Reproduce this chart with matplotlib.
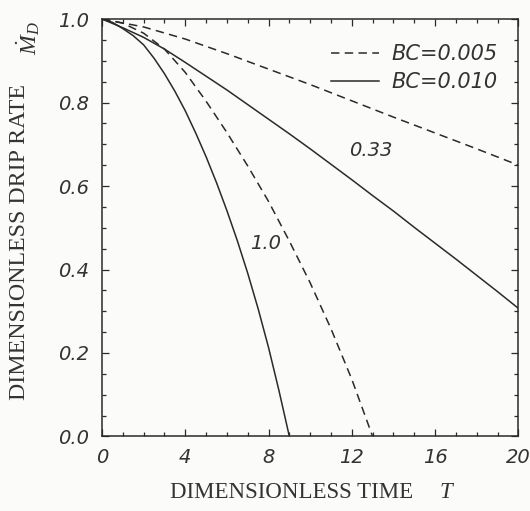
import numpy as np
import matplotlib
matplotlib.use('Agg')
import matplotlib.pyplot as plt
from matplotlib.ticker import MultipleLocator, FormatStrFormatter

plt.rcParams['mathtext.fontset'] = 'custom'
plt.rcParams['mathtext.rm'] = 'Liberation Serif'
plt.rcParams['mathtext.it'] = 'Liberation Serif:italic'

# Drip rate curves (T, M_D)
# BC = 0.010 (solid)
t_solid_033 = [0, 1, 2, 3, 4, 5, 6, 7, 8, 9, 10, 11, 12, 13, 14, 15, 16, 17, 18, 19, 20]
m_solid_033 = [1.0, 0.979, 0.956, 0.928, 0.896, 0.863, 0.830, 0.795, 0.760, 0.725, 0.689,
               0.652, 0.615, 0.577, 0.540, 0.501, 0.463, 0.425, 0.386, 0.347, 0.307]
t_solid_10 = [0, 0.5, 1, 1.5, 2, 2.5, 3, 3.5, 4, 4.5, 5, 5.5, 6, 6.5, 7, 7.5, 8, 8.5, 9.0]
m_solid_10 = [1.0, 0.992, 0.977, 0.960, 0.938, 0.906, 0.869, 0.827, 0.780, 0.727, 0.670,
              0.608, 0.541, 0.469, 0.391, 0.306, 0.213, 0.110, 0.0]

# BC = 0.005 (dashed)
t_dash_033 = [0, 2, 4, 6, 8, 10, 12, 14, 16, 18, 20]
m_dash_033 = [1.0, 0.981, 0.952, 0.917, 0.880, 0.843, 0.804, 0.765, 0.727, 0.689, 0.650]
t_dash_10 = [0, 1, 2, 3, 4, 5, 6, 7, 8, 9, 10, 11, 12, 13.0]
m_dash_10 = [1.0, 0.990, 0.966, 0.928, 0.872, 0.803, 0.728, 0.648, 0.563, 0.468, 0.368,
             0.258, 0.137, 0.0]

legend_labels = ['BC=0.005', 'BC=0.010']
ink = '#2a2a2a'
tick_font = dict(family='DejaVu Sans', style='oblique', size=14)

fig = plt.figure(figsize=(5.3, 5.11), dpi=100, facecolor='#fbfbfa')
ax = fig.add_axes([0.1925, 0.1458, 0.7855, 0.817])
ax.set_facecolor('#fbfbfa')

dash_style = dict(color=ink, lw=1.1, linestyle=(0, (5.5, 3.5)))
solid_style = dict(color=ink, lw=1.1, linestyle='-')

l_dash, = ax.plot(t_dash_033, m_dash_033, label=legend_labels[0], **dash_style)
ax.plot(t_dash_10, m_dash_10, **dash_style)
l_solid, = ax.plot(t_solid_033, m_solid_033, label=legend_labels[1], **solid_style)
ax.plot(t_solid_10, m_solid_10, **solid_style)

ax.set_xlim(0, 20)
ax.set_ylim(0, 1.0)
ax.xaxis.set_major_locator(MultipleLocator(4))
ax.xaxis.set_minor_locator(MultipleLocator(1))
ax.yaxis.set_major_locator(MultipleLocator(0.2))
ax.yaxis.set_minor_locator(MultipleLocator(0.05))
ax.yaxis.set_major_formatter(FormatStrFormatter('%.1f'))
ax.tick_params(which='both', direction='in', top=True, right=True, colors=ink, width=0.9)
ax.tick_params(which='major', length=5)
ax.tick_params(which='minor', length=3)
ax.tick_params(axis='y', pad=9)
ax.tick_params(axis='x', pad=8)
for lab in ax.get_xticklabels() + ax.get_yticklabels():
    lab.set_fontfamily(tick_font['family'])
    lab.set_fontstyle(tick_font['style'])
    lab.set_fontsize(tick_font['size'])
    lab.set_color('#333333')
for sp in ax.spines.values():
    sp.set_color(ink)
    sp.set_linewidth(1.1)

# curve labels (parameter value)
ax.text(12.9, 0.685, '0.33', ha='center', va='center', color='#333333', **tick_font)
ax.text(7.86, 0.463, '1.0', ha='center', va='center', color='#333333', **tick_font)

ax.legend(handles=[l_dash, l_solid], loc='upper right', bbox_to_anchor=(0.95, 0.94),
          frameon=False, borderpad=0, borderaxespad=0, handlelength=2.3,
          handletextpad=0.6, labelspacing=0.4,
          prop=dict(family='DejaVu Sans', style='oblique', size=15), labelcolor='#333333')

# axis labels
fig.text(0.55, 0.0254, 'DIMENSIONLESS TIME', ha='center', va='baseline',
         family='Liberation Serif', size=16.5, color='#333333')
fig.text(0.8415, 0.0254, 'T', ha='center', va='baseline',
         family='Liberation Serif', style='italic', size=16.5, color='#333333')
fig.text(0.0377, 0.527, 'DIMENSIONLESS DRIP RATE', rotation=90, ha='center', va='center',
         family='Liberation Serif', size=17.2, color='#333333')
fig.text(0.0528, 0.925, r'$\dot{M}_D$', rotation=90, ha='center', va='center',
         size=17, color='#333333')

fig.savefig('out.png', dpi=100, facecolor=fig.get_facecolor())
